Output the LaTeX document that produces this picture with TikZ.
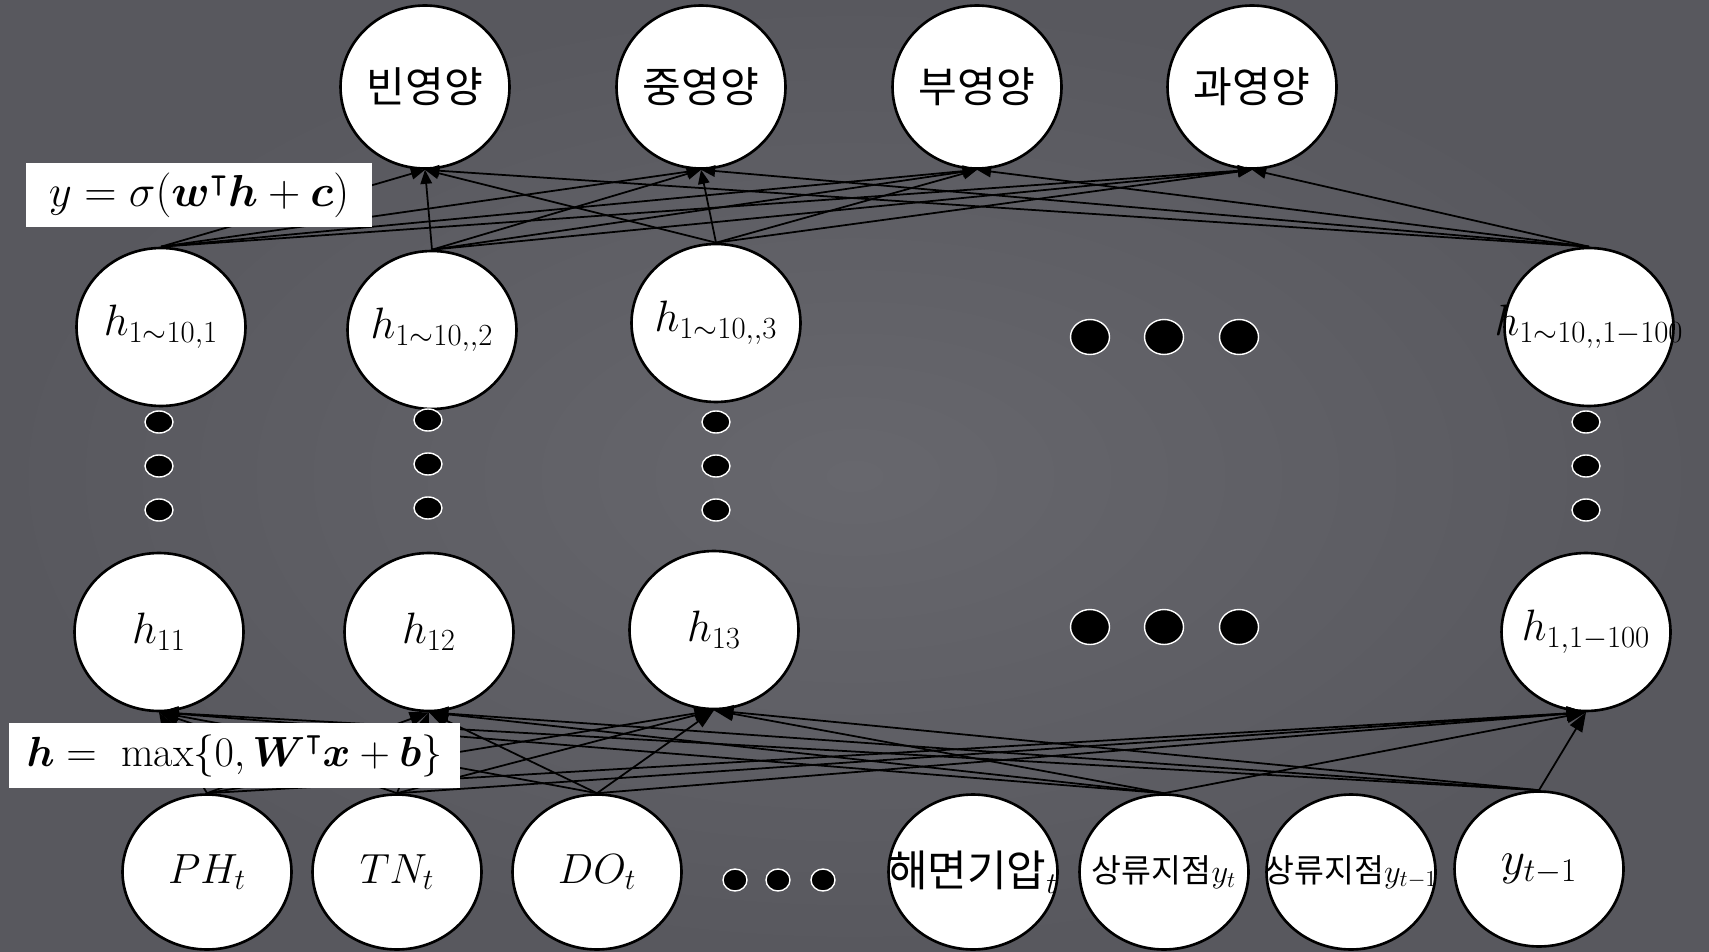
\RequirePackage{fix-cm}
\documentclass[tikz,border=0pt]{standalone}
\usepackage{amsmath,amssymb}
\usepackage{fontspec}
\newfontfamily\kofont{Noto Sans CJK KR}
\usetikzlibrary{arrows.meta,shapes.geometric}
\definecolor{slidecenter}{RGB}{103,103,109}
\definecolor{slideborder}{RGB}{88,88,94}
\newcommand{\overhang}[1]{\makebox[0pt]{#1}}
\tikzset{
  neuron/.style={
      ellipse, draw=black, line width=1.5pt, fill=white,
      minimum width=3.38cm, minimum height=3.16cm, inner sep=0pt,
      font=\fontsize{25}{30}\selectfont
    },
  class neuron/.style={
      neuron, minimum height=3.26cm,
      font=\kofont\fontsize{24}{28}\selectfont
    },
  input neuron/.style={
      neuron, minimum height=3.1cm,
      font=\fontsize{24}{28}\selectfont
    },
  gap dot/.style={
      ellipse, draw=white, line width=0.8pt, fill=black, inner sep=0pt,
      minimum width=0.78cm, minimum height=0.7cm
    },
  column dot/.style={gap dot, minimum width=0.56cm, minimum height=0.44cm},
  input dot/.style={gap dot, minimum width=0.48cm, minimum height=0.44cm},
  output weight/.style={
      line width=1pt,
        -{Triangle[length=8pt,width=6.5pt]}
    },
  hidden weight/.style={
      line width=1pt,
        -{Triangle[length=11pt,width=8pt]}
    },
  formula box/.style={
      rectangle, fill=white, inner sep=0pt,
      font=\fontsize{24}{28}\selectfont
    }
}

\begin{document}
\begin{tikzpicture}[x=0.02cm, y=-0.02cm]

  % ------------------------------------------------------------------
  % Slide background.
  % ------------------------------------------------------------------
  \shade[inner color=slidecenter, outer color=slideborder]
  (0,0) rectangle (1709,952);
  \useasboundingbox (0,0) rectangle (1709,952);

  % ------------------------------------------------------------------
  % Output classes.
  % ------------------------------------------------------------------
  \node[class neuron] (oligo) at (425,87) {빈영양};
  \node[class neuron] (meso) at (701,87) {중영양};
  \node[class neuron] (eu) at (977,87) {부영양};
  \node[class neuron] (hyper) at (1252,87) {과영양};

  % ------------------------------------------------------------------
  % Last hidden layer.
  % ------------------------------------------------------------------
  \node[neuron] (hk1) at (161,327) {\overhang{$h_{1\sim10,1}$}};
  \node[neuron] (hk2) at (432,330) {\overhang{$h_{1\sim10,,2}$}};
  \node[neuron] (hk3) at (716,323) {\overhang{$h_{1\sim10,,3}$}};
  \node[neuron] (hkN) at (1589,327) {\overhang{$h_{1\sim10,,1-100}$}};

  \node[gap dot] (gapk1) at (1090,337) {};
  \node[gap dot] (gapk2) at (1164,337) {};
  \node[gap dot] (gapk3) at (1239,337) {};

  % skipped layers between the first and the last hidden layer
  \node[column dot] (colA1) at (159,422) {};
  \node[column dot] (colA2) at (159,466) {};
  \node[column dot] (colA3) at (159,510) {};
  \node[column dot] (colB1) at (428,420) {};
  \node[column dot] (colB2) at (428,464) {};
  \node[column dot] (colB3) at (428,508) {};
  \node[column dot] (colC1) at (716,422) {};
  \node[column dot] (colC2) at (716,466) {};
  \node[column dot] (colC3) at (716,510) {};
  \node[column dot] (colD1) at (1586,422) {};
  \node[column dot] (colD2) at (1586,466) {};
  \node[column dot] (colD3) at (1586,510) {};

  % ------------------------------------------------------------------
  % First hidden layer.
  % ------------------------------------------------------------------
  \node[neuron] (h1) at (159,632) {$h_{11}$};
  \node[neuron] (h2) at (429,632) {$h_{12}$};
  \node[neuron] (h3) at (714,630) {$h_{13}$};
  \node[neuron] (hN) at (1586,632) {\overhang{$h_{1,1-100}$}};

  \node[gap dot] (gap1) at (1090,627) {};
  \node[gap dot] (gap2) at (1164,627) {};
  \node[gap dot] (gap3) at (1239,627) {};

  % ------------------------------------------------------------------
  % Inputs.
  % ------------------------------------------------------------------
  \node[input neuron] (ph) at (207,872) {$PH_t$};
  \node[input neuron] (tn) at (397,872) {$TN_t$};
  \node[input neuron] (do) at (597,872) {$DO_t$};
  \node[input dot] (gapin1) at (735,880) {};
  \node[input dot] (gapin2) at (778,880) {};
  \node[input dot] (gapin3) at (823,880) {};
  \node[input neuron] (slp) at (973,872)
  {\overhang{\kofont\fontsize{24.5}{28}\selectfont 해면기압$_t$}};
  \node[input neuron] (upy) at (1164,872)
  {\overhang{\kofont\fontsize{18.5}{22}\selectfont 상류지점$y_t$}};
  \node[input neuron] (upyprev) at (1351,872)
  {\overhang{\kofont\fontsize{18.5}{22}\selectfont 상류지점$y_{t-1}$}};
  \node[input neuron, font=\fontsize{27}{30}\selectfont] (yprev) at (1539,869)
  {$y_{t-1}$};

  % ------------------------------------------------------------------
  % Weights: last hidden layer -> classes.
  % ------------------------------------------------------------------
  \draw[output weight] (hk1.north) -- (oligo.south);
  \draw[output weight] (hk1.north) -- (meso.south);
  \draw[output weight] (hk1.north) -- (eu.south);
  \draw[output weight] (hk1.north) -- (hyper.south);

  \draw[output weight] (hk2.north) -- (oligo.south);
  \draw[output weight] (hk2.north) -- (meso.south);
  \draw[output weight] (hk2.north) -- (eu.south);
  \draw[output weight] (hk2.north) -- (hyper.south);

  \draw[output weight] (hk3.north) -- (oligo.south);
  \draw[output weight] (hk3.north) -- (meso.south);
  \draw[output weight] (hk3.north) -- (eu.south);
  \draw[output weight] (hk3.north) -- (hyper.south);

  \draw[output weight] (hkN.north) -- (oligo.south);
  \draw[output weight] (hkN.north) -- (meso.south);
  \draw[output weight] (hkN.north) -- (eu.south);
  \draw[output weight] (hkN.north) -- (hyper.south);

  % ------------------------------------------------------------------
  % Weights: inputs -> first hidden layer.
  % ------------------------------------------------------------------
  \draw[hidden weight] (ph.north) -- (h1.south);
  \draw[hidden weight] (ph.north) -- (h2.south);
  \draw[hidden weight] (ph.north) -- (h3.south);
  \draw[hidden weight] (ph.north) -- (hN.south);

  \draw[hidden weight] (tn.north) -- (h1.south);
  \draw[hidden weight] (tn.north) -- (h2.south);
  \draw[hidden weight] (tn.north) -- (h3.south);
  \draw[hidden weight] (tn.north) -- (hN.south);

  \draw[hidden weight] (do.north) -- (h1.south);
  \draw[hidden weight] (do.north) -- (h2.south);
  \draw[hidden weight] (do.north) -- (h3.south);
  \draw[hidden weight] (do.north) -- (hN.south);

  \draw[hidden weight] (upy.north) -- (h1.south);
  \draw[hidden weight] (upy.north) -- (h2.south);
  \draw[hidden weight] (upy.north) -- (h3.south);
  \draw[hidden weight] (upy.north) -- (hN.south);

  \draw[hidden weight] (yprev.north) -- (h1.south);
  \draw[hidden weight] (yprev.north) -- (h2.south);
  \draw[hidden weight] (yprev.north) -- (h3.south);
  \draw[hidden weight] (yprev.north) -- (hN.south);

  % ------------------------------------------------------------------
  % Layer rules, on top of the weights.
  % ------------------------------------------------------------------
  \node[formula box, minimum width=6.92cm, minimum height=1.28cm,
    font=\fontsize{25.5}{30}\selectfont]
  (outrule) at (199,195)
  {$y = \sigma(\boldsymbol{w}^{\intercal}\boldsymbol{h} + \boldsymbol{c})$};

  \node[formula box, minimum width=9.02cm, minimum height=1.3cm]
  (hiddenrule) at (234.5,755.5)
  {$\boldsymbol{h} = \ \max\{0, \boldsymbol{W}^{\intercal}\boldsymbol{x}
      + \boldsymbol{b}\}$};

\end{tikzpicture}
\end{document}
